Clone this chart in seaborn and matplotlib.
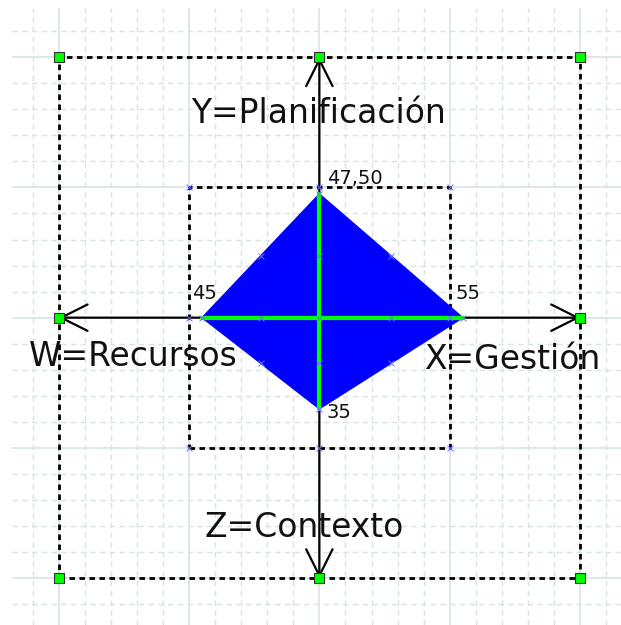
import numpy as np
import pandas as pd
import seaborn as sns
import matplotlib.pyplot as plt
from matplotlib.ticker import MultipleLocator

# Data
axis_names = ['X=Gestión', 'Y=Planificación', 'W=Recursos', 'Z=Contexto']
axis_dirs = [(1, 0), (0, 1), (-1, 0), (0, -1)]
scores = [55, 47.5, 45, 35]
score_labels = ['55', '47,50', '45', '35']
outer = 100
inner = 50

sns.set_theme(style='white')
plt.rcParams['font.family'] = ['DejaVu Sans']

fig = plt.figure(figsize=(6.21, 6.25), dpi=100)
ax = fig.add_axes([12 / 621, 0, 609 / 621, 617 / 625])
ax.set_xlim(-117.9, 115.7)
ax.set_ylim(-118.0, 118.9)
for s in ax.spines.values():
    s.set_visible(False)

# grid
ax.xaxis.set_major_locator(MultipleLocator(50))
ax.yaxis.set_major_locator(MultipleLocator(50))
ax.xaxis.set_minor_locator(MultipleLocator(10))
ax.yaxis.set_minor_locator(MultipleLocator(10))
ax.grid(which='major', color='#d8e4e4', lw=1.2, ls='-')
ax.grid(which='minor', color='#d8e4e4', lw=1.0, ls=(0, (4, 3)))
ax.tick_params(which='both', length=0, labelleft=False, labelbottom=False)
ax.set_axisbelow(True)

# dashed squares
for h in [outer, inner]:
    sq = np.array([[-h, -h], [h, -h], [h, h], [-h, h], [-h, -h]])
    ax.plot(sq[:, 0], sq[:, 1], color='black', lw=2, ls=(0, (2, 1.6)), zorder=2)

# diamond
pts = np.array([[d[0] * v, d[1] * v] for d, v in zip(axis_dirs, scores)])
ax.fill(pts[:, 0], pts[:, 1], color='#0000ff', zorder=3)

# axis arrows
for d in axis_dirs:
    ax.annotate('', xy=(d[0] * outer, d[1] * outer), xytext=(0, 0),
                arrowprops=dict(arrowstyle='->,head_length=1.9,head_width=0.95',
                                lw=1.6, color='black', shrinkA=0, shrinkB=0,
                                mutation_scale=10), zorder=4)

# green cross
ax.plot([pts[2, 0], pts[0, 0]], [0, 0], color='#00ff00', lw=3, zorder=5)
ax.plot([0, 0], [pts[3, 1], pts[1, 1]], color='#00ff00', lw=3, zorder=5)

# small blue helper points
helpers = [(-inner, -inner), (inner, -inner), (inner, inner), (-inner, inner),
           (0, inner), (0, -inner), (inner, 0), (-inner, 0)]
helpers += [tuple(p) for p in pts]
helpers += [tuple((pts[i] + pts[(i + 1) % 4]) / 2) for i in range(4)]
helpers += [tuple(p / 2) for p in pts]
helpers += [(0, 0)]
hp = pd.DataFrame(helpers, columns=['x', 'y'])
sns.scatterplot(data=hp, x='x', y='y', marker='x', color='#7070ff', s=18,
                linewidth=0.7, ax=ax, zorder=6)

# green corner/end squares
ends = [(d[0] * outer, d[1] * outer) for d in axis_dirs]
ends += [(-outer, -outer), (outer, -outer), (outer, outer), (-outer, outer)]
gp = pd.DataFrame(ends, columns=['x', 'y'])
sns.scatterplot(data=gp, x='x', y='y', marker='s', color='#00ff00', s=55,
                edgecolor='#333333', linewidth=0.8, ax=ax, zorder=7)

# axis names
name_pos = [(40.3, -19.6), (-49.2, 74.9), (-111.6, -18.7), (-44.2, -84.1)]
for name, (x, y) in zip(axis_names, name_pos):
    ax.text(x, y, name, fontsize=23.7, color='#111111', ha='left', va='baseline', zorder=8)

# score labels
lab_pos = [(52.2, 7.3), (2.8, 51.3), (-48.7, 7.3), (2.6, -38.7)]
for lab, (x, y) in zip(score_labels, lab_pos):
    ax.text(x, y, lab, fontsize=14, color='#111111', ha='left', va='baseline', zorder=8)

ax.set_xlabel('')
ax.set_ylabel('')
fig.savefig('out.png', dpi=100)
